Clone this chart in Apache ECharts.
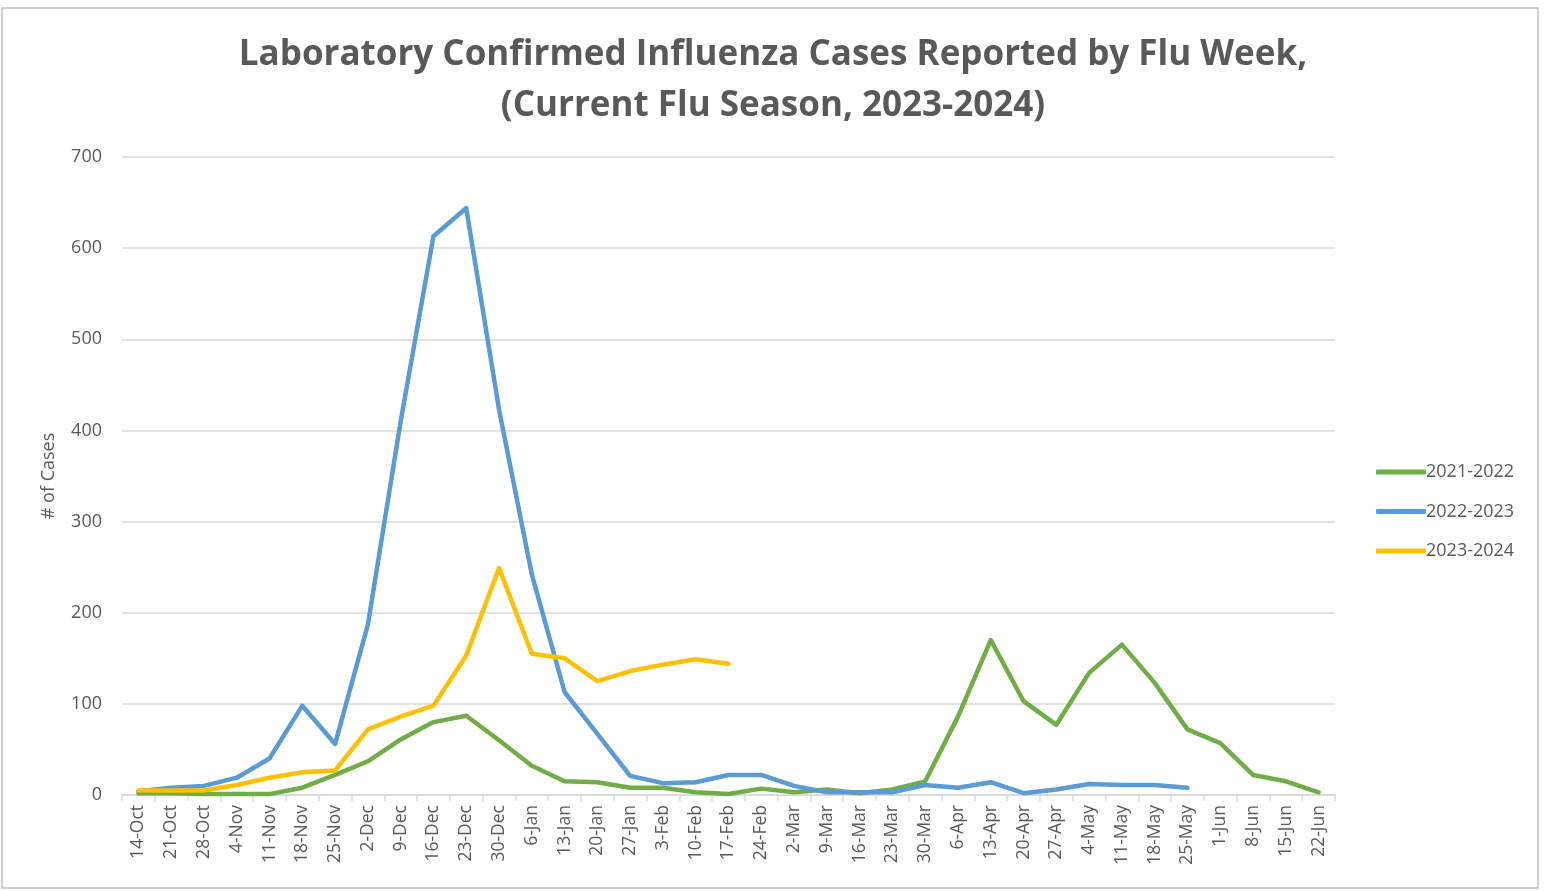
<!DOCTYPE html>
<html>
<head>
<meta charset="utf-8">
<script src="https://cdn.jsdelivr.net/npm/echarts@6/dist/echarts.min.js"></script>
<style>
  html, body { margin: 0; padding: 0; background: #fff; }
  #chart { width: 1546px; height: 891px; }
</style>
</head>
<body>
<div id="chart"></div>
<script>
// flu weeks
const weeks = ["14-Oct", "21-Oct", "28-Oct", "4-Nov", "11-Nov", "18-Nov", "25-Nov",
  "2-Dec", "9-Dec", "16-Dec", "23-Dec", "30-Dec", "6-Jan", "13-Jan", "20-Jan", "27-Jan",
  "3-Feb", "10-Feb", "17-Feb", "24-Feb", "2-Mar", "9-Mar", "16-Mar", "23-Mar", "30-Mar",
  "6-Apr", "13-Apr", "20-Apr", "27-Apr", "4-May", "11-May", "18-May", "25-May",
  "1-Jun", "8-Jun", "15-Jun", "22-Jun"];

const season2122 = [2, 2, 1, 1, 1, 8, 22, 37, 61, 80, 87, 60, 32, 15, 14, 8, 8, 3, 1, 7,
  3, 6, 2, 6, 15, 86, 170, 103, 77, 134, 165, 123, 72, 57, 22, 15, 3];
const season2223 = [4, 8, 10, 19, 40, 98, 56, 187, 410, 613, 644, 423, 242, 113, 67, 21,
  13, 14, 22, 22, 10, 3, 3, 3, 11, 8, 14, 2, 6, 12, 11, 11, 8];
const season2324 = [5, 5, 5, 11, 19, 25, 27, 72, 86, 98, 153, 249, 155, 150, 125, 136,
  143, 149, 144];

const yTicks = [0, 100, 200, 300, 400, 500, 600, 700];

const txt = "#595959";
let chart = echarts.init(document.getElementById("chart"));

function line(name, data, color) {
  return {
    name: name,
    type: "line",
    data: data,
    symbol: "none",
    lineStyle: { width: 4.5, color: color, cap: "round", join: "round" },
    itemStyle: { color: color }
  };
}

chart.setOption({
  animation: false,
  title: {
    text: "Laboratory Confirmed Influenza Cases Reported by Flu Week,\n(Current Flu Season, 2023-2024)",
    left: 768,
    top: 25,
    textAlign: "center",
    textStyle: {
      fontFamily: "Open Sans",
      fontSize: 35,
      fontWeight: "bold",
      color: txt,
      lineHeight: 51
    }
  },
  legend: {
    orient: "vertical",
    left: 1371,
    top: 458,
    itemGap: 21.5,
    itemWidth: 50,
    itemHeight: 5,
    icon: "roundRect",
    textStyle: { fontFamily: "Open Sans", fontSize: 18, color: txt, padding: [0, 0, 0, -5] },
    data: ["2021-2022", "2022-2023", "2023-2024"]
  },
  grid: { left: 122, right: 211, top: 157, bottom: 96 },
  xAxis: {
    type: "category",
    data: weeks,
    boundaryGap: true,
    axisLine: { lineStyle: { color: "#d9d9d9", width: 1.5 } },
    axisTick: { show: true, length: 6, lineStyle: { color: "#d9d9d9", width: 1.5 } },
    axisLabel: {
      interval: 0,
      rotate: 90,
      margin: 10,
      fontFamily: "Open Sans",
      fontSize: 17.5,
      color: txt
    }
  },
  yAxis: {
    type: "value",
    min: yTicks[0],
    max: yTicks[yTicks.length - 1],
    interval: 100,
    name: "# of Cases",
    nameLocation: "middle",
    nameGap: 64,
    nameTextStyle: { fontFamily: "Open Sans", fontSize: 18, color: txt },
    axisLine: { show: false },
    axisTick: { show: false },
    axisLabel: { margin: 20, fontFamily: "Open Sans", fontSize: 18, color: txt },
    splitLine: { lineStyle: { color: "#d9d9d9", width: 1.5 } }
  },
  graphic: [{
    type: "rect",
    shape: { x: 2, y: 8, width: 1536, height: 880 },
    style: { fill: "none", stroke: "#bfbfbf", lineWidth: 1.5 },
    silent: true
  }],
  series: [
    line("2021-2022", season2122, "#70ad47"),
    line("2022-2023", season2223, "#5b9bd5"),
    line("2023-2024", season2324, "#ffc000")
  ]
});
</script>
</body>
</html>
